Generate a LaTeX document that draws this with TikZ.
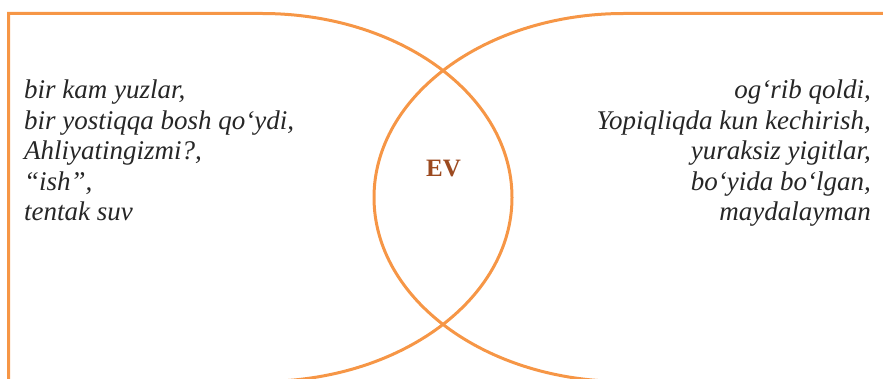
\documentclass[tikz,border=0pt]{standalone}
\usepackage{fontspec}
\setmainfont{Liberation Serif}
\definecolor{vennorange}{RGB}{246,150,70}
\definecolor{evbrown}{RGB}{156,74,32}
\tikzset{
  venn/.style={draw=vennorange, line width=3pt},
  wordlist/.style={inner sep=0pt, font=\fontsize{27}{30.5}\selectfont\itshape, text=black!85},
  evlabel/.style={inner sep=0pt, font=\fontsize{25}{25}\selectfont\bfseries, text=evbrown}
}
\begin{document}
\begin{tikzpicture}[x=1pt,y=1pt]
\useasboundingbox (0,0) rectangle (883,378);
\clip (0,0) rectangle (883,378);
% left shape
\draw[venn] (8.5,-10) -- (8.5,364.5) -- (262,364.5)
  arc[start angle=90, end angle=-90, x radius=250, y radius=184] -- (8.5,-3.5);
% right shape
\draw[venn] (895,364.5) -- (624,364.5)
  arc[start angle=90, end angle=270, x radius=250, y radius=184] -- (895,-3.5);
\node[wordlist, anchor=north west, align=left] (left) at (24,298)
  {bir kam yuzlar,\\ bir yostiqqa bosh qo‘ydi,\\ Ahliyatingizmi?,\\ “ish”,\\ tentak suv};
\node[wordlist, anchor=north east, align=right] (right) at (871,298)
  {og‘rib qoldi,\\ Yopiqliqda kun kechirish,\\ yuraksiz yigitlar,\\ bo‘yida bo‘lgan,\\ maydalayman};
\node[evlabel] (ev) at (443.5,209.5) {EV};
\end{tikzpicture}
\end{document}
